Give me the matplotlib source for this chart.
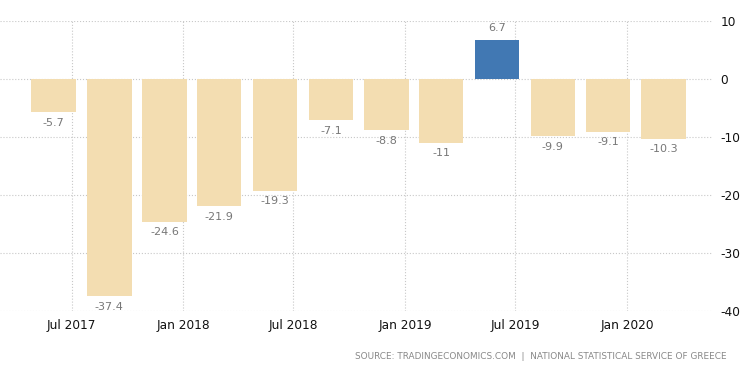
import datetime as dt
import matplotlib
matplotlib.use("Agg")
import matplotlib.pyplot as plt

plt.rcParams["axes.unicode_minus"] = False

# Quarterly values (%)
dates = [dt.date(2017, 6, 1), dt.date(2017, 9, 1), dt.date(2017, 12, 1),
         dt.date(2018, 3, 1), dt.date(2018, 6, 1), dt.date(2018, 9, 1),
         dt.date(2018, 12, 1), dt.date(2019, 3, 1), dt.date(2019, 6, 1),
         dt.date(2019, 9, 1), dt.date(2019, 12, 1), dt.date(2020, 3, 1)]
values = [-5.7, -37.4, -24.6, -21.9, -19.3, -7.1, -8.8, -11, 6.7, -9.9, -9.1, -10.3]
labels = ["-5.7", "-37.4", "-24.6", "-21.9", "-19.3", "-7.1", "-8.8", "-11", "6.7", "-9.9", "-9.1", "-10.3"]

tick_dates = [dt.date(2017, 7, 1), dt.date(2018, 1, 1), dt.date(2018, 7, 1),
              dt.date(2019, 1, 1), dt.date(2019, 7, 1), dt.date(2020, 1, 1)]
tick_labels = ["Jul 2017", "Jan 2018", "Jul 2018", "Jan 2019", "Jul 2019", "Jan 2020"]
y_ticks = [10, 0, -10, -20, -30, -40]

NEG_COLOR = "#F3DDB1"
POS_COLOR = "#4178B3"

fig = plt.figure(figsize=(7.5, 3.73), dpi=100)
ax = fig.add_axes([0.0, 0.166, 0.951, 0.778])

colors = [POS_COLOR if v > 0 else NEG_COLOR for v in values]
ax.bar(dates, values, width=73, color=colors, zorder=2)

for d, v, lab in zip(dates, values, labels):
    if v >= 0:
        ax.annotate(lab, (d, v), xytext=(0, 5), textcoords="offset points",
                    ha="center", va="bottom", fontsize=8, color="#777777")
    else:
        ax.annotate(lab, (d, v), xytext=(0, -4), textcoords="offset points",
                    ha="center", va="top", fontsize=8, color="#777777")

ax.set_xlim(dt.date(2017, 3, 5), dt.date(2020, 5, 22))
ax.set_ylim(-40, 10)
ax.set_xticks(tick_dates)
ax.set_xticklabels(tick_labels)
ax.set_yticks(y_ticks)
ax.yaxis.tick_right()

ax.tick_params(axis="both", length=0, labelsize=8.7, colors="#111111")
ax.tick_params(axis="x", pad=6)
ax.tick_params(axis="y", pad=5)
ax.grid(True, linestyle=":", color="#c8c8c8", linewidth=0.8, zorder=0)
ax.set_axisbelow(True)
for s in ax.spines.values():
    s.set_visible(False)

fig.text(0.969, 0.045, "SOURCE: TRADINGECONOMICS.COM  |  NATIONAL STATISTICAL SERVICE OF GREECE",
         ha="right", va="center", fontsize=6.4, color="#888888")

fig.savefig("out.png", dpi=100)
